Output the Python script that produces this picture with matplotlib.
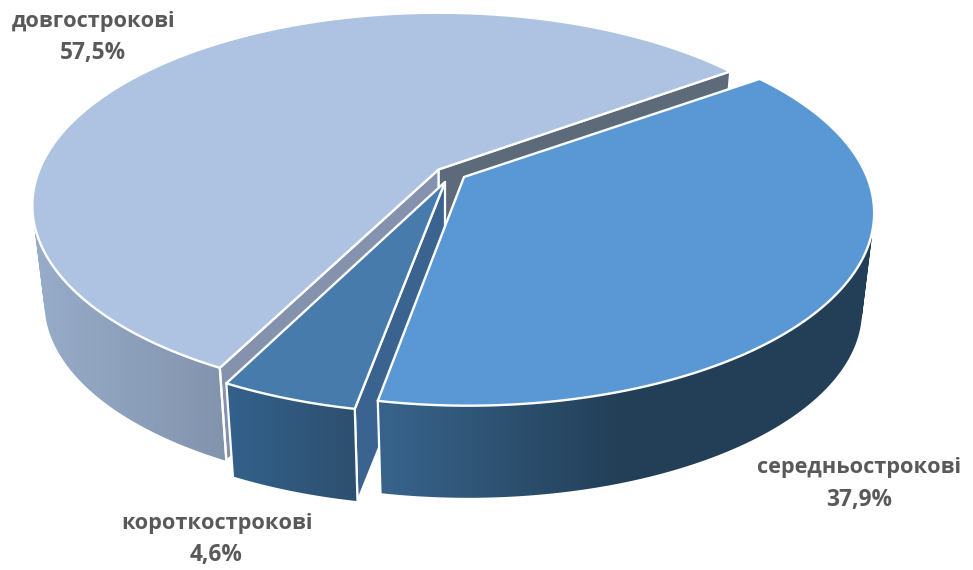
import numpy as np
import matplotlib
matplotlib.use('Agg')
import matplotlib.pyplot as plt
from matplotlib.patches import Polygon
from matplotlib.path import Path

labels = ['довгострокові', 'короткострокові', 'середньострокові']
shares = [57.5, 4.6, 37.9]
share_labels = ['57,5%', '4,6%', '37,9%']

START_ANGLE = 35.8
A, B, P = 399.0, 186.0, 0.1866   # ellipse scale and perspective
SHRINK, DEPTH = 0.97, 99.0       # lower rim of the pie

# rim centre of each slice, and where its sharp tip is really drawn
apex_x = [438.5, 445.0, 468.0]
apex_y = [169.5, 185.0, 177.0]
tip_x = [438.5, 445.0, 464.0]
tip_y = [169.5, 182.0, 177.0]
top_colors = ['#aec3e1', '#467bab', '#5a98d5']
wall_range = [(36, 228), (227, 358), (380, 865)]
wall_stops = [
    [(0.0, '#97acc9'), (1.0, '#8293ac')],
    [(0.0, '#33618c'), (1.0, '#2e4f6e')],
    [(0.0, '#38648c'), (0.5, '#233f57'), (1.0, '#233f57')],
]
label_x = [93, 216.5, 859]
label_y = [22, 524, 468]
pct_y = [53, 555, 500]


def project(angles, cx, cy):
    t = np.radians(angles)
    x, y = np.cos(t), np.sin(t)
    s = 1.0 / (1.0 + P * y)
    return np.column_stack([cx + A * x * s, cy - B * y * s])


def lower(pts, cx, cy):
    res = np.array(pts, dtype=float)
    res[:, 0] = cx + (res[:, 0] - cx) * SHRINK
    res[:, 1] = cy + (res[:, 1] - cy) * SHRINK + DEPTH
    return res


def wall_path(rim, low):
    # every quad in the same winding, so the path fills as their union
    verts = []
    codes = []
    for j in range(len(rim) - 1):
        quad = np.array([rim[j], rim[j + 1], low[j + 1], low[j]])
        x, y = quad[:, 0], quad[:, 1]
        if np.dot(x, np.roll(y, -1)) - np.dot(y, np.roll(x, -1)) < 0:
            quad = quad[::-1]
        verts.extend(quad)
        verts.append(quad[0])
        codes.extend([Path.MOVETO, Path.LINETO, Path.LINETO, Path.LINETO, Path.CLOSEPOLY])
    return Path(np.array(verts), codes)


def outer_wall(ax, rim, low, x_range, stops, zorder):
    x = np.arange(0, 974)
    pos = np.clip((x - x_range[0]) / (x_range[1] - x_range[0]), 0, 1)
    stop_pos = [s[0] for s in stops]
    stop_rgb = np.array([matplotlib.colors.to_rgb(s[1]) for s in stops])
    img = np.stack([np.interp(pos, stop_pos, stop_rgb[:, i]) for i in range(3)], axis=-1)
    im = ax.imshow(img[None, :, :], extent=(0, 973, 570, 0), aspect='auto', interpolation='bilinear', zorder=zorder)
    im.set_clip_path(wall_path(rim, low), transform=ax.transData)


def cut_wall(ax, angle, i, color, zorder):
    cx, cy = apex_x[i], apex_y[i]
    rim = project(np.array([angle]), cx, cy)[0]
    low = lower(np.array([rim, [cx, cy]]), cx, cy)
    pts = np.array([[tip_x[i], tip_y[i]], rim, low[0], low[1]])
    ax.add_patch(Polygon(pts, closed=True, fc=color, ec='white', lw=1.6, joinstyle='round', zorder=zorder))


fig = plt.figure(figsize=(9.73, 5.70), dpi=100)
ax = fig.add_axes([0, 0, 1, 1])
ax.axis('off')

edges = START_ANGLE + np.cumsum([0] + shares) * 3.6

# back to front: long term, short term, middle term
for i in range(3):
    cx, cy = apex_x[i], apex_y[i]
    angles = np.linspace(edges[i], edges[i + 1], 300)
    rim = project(angles, cx, cy)
    low = lower(rim, cx, cy)
    z = 3 + i * 3
    outer_wall(ax, rim, low, wall_range[i], wall_stops[i], z)

    # white line at the front ends of the wall
    front = [len(rim) - 1] if i == 0 else ([0, len(rim) - 1] if i == 1 else [0])
    for j in front:
        ax.plot([rim[j, 0], low[j, 0]], [rim[j, 1], low[j, 1]], color='white', lw=1.6, zorder=z + 0.6)

    if i == 0:
        cut_wall(ax, edges[0], 0, '#5c6a7a', z + 0.2)
        cut_wall(ax, edges[1], 0, '#8592ad', z + 0.3)
    if i == 1:
        cut_wall(ax, edges[2], 1, '#3a648f', z - 0.5)

    top = np.vstack([[tip_x[i], tip_y[i]], rim])
    ax.add_patch(Polygon(top, closed=True, fc=top_colors[i], ec='white', lw=1.7, joinstyle='round', zorder=z + 1))

ax.set_xlim(0, 973)
ax.set_ylim(570, 0)

text_font = ['Open Sans', 'DejaVu Sans']
for i in range(3):
    ax.text(label_x[i], label_y[i], labels[i], ha='center', va='center', fontsize=15.7, fontweight='bold',
            color='#595959', family=text_font, zorder=20)
    ax.text(label_x[i], pct_y[i], share_labels[i], ha='center', va='center',
            fontsize=16.3, fontweight='bold', color='#595959', family=text_font, zorder=20)

fig.savefig('out.png', dpi=100)
